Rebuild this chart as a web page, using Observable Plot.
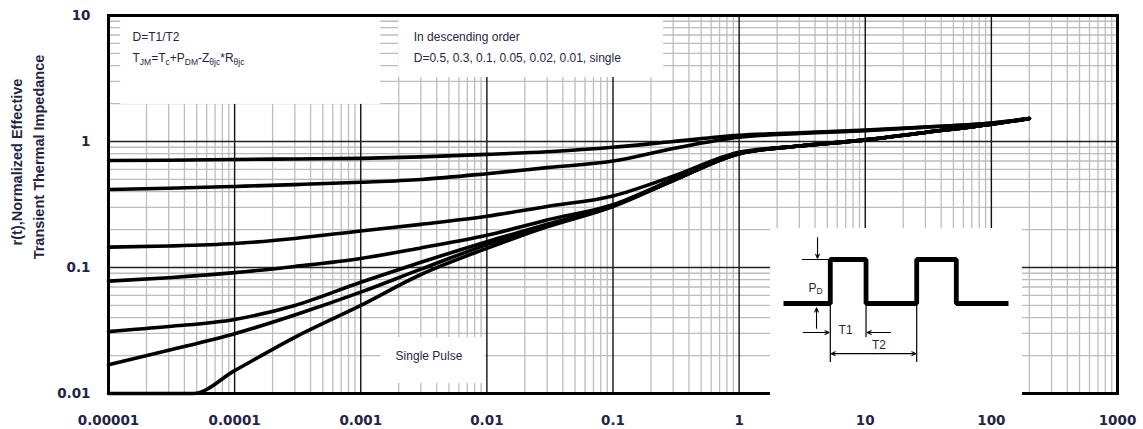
<!DOCTYPE html>
<html>
<head>
<meta charset="utf-8">
<script src="https://cdn.jsdelivr.net/npm/d3@7"></script>
<script src="https://cdn.jsdelivr.net/npm/@observablehq/plot@0.6"></script>
<style>
  body { margin: 0; background: white; }
  #wrap { position: relative; width: 1143px; height: 429px; overflow: hidden; background: white; }
  #wrap > svg { position: absolute; left: 0; top: 0; }
  #inset { position: absolute; left: 770px; top: 228px; }
  .ytitle { position: absolute; transform: translate(-50%, -50%) rotate(-90deg); white-space: nowrap;
            font: bold 14.5px "Liberation Sans", Arial, sans-serif; color: #1f2547; }
</style>
</head>
<body>
<div id="wrap">
  <div id="main"></div>
  <div id="inset"></div>
  <div class="ytitle" style="left:17px; top:162px;">r(t),Normalized Effective</div>
  <div class="ytitle" style="left:39px; top:157px;">Transient Thermal Impedance</div>
</div>
<script>
// ---------------- data ----------------
const xTicks = [1e-5, 1e-4, 1e-3, 1e-2, 1e-1, 1, 10, 100, 1000];
const xTickLabels = ["0.00001", "0.0001", "0.001", "0.01", "0.1", "1", "10", "100", "1000"];
const yTicks = [0.01, 0.1, 1, 10];
const yTickLabels = ["0.01", "0.1", "1", "10"];

// pulse width t (s)
const times = [1e-5, 3e-5, 1e-4, 3e-4, 1e-3, 3e-3, 1e-2, 3e-2, 0.1, 0.3, 1, 3, 10, 30, 100, 200];
const singleTimes = [1e-5, 4.7e-5, 1e-4, 3e-4, 1e-3, 3e-3, 1e-2, 3e-2, 0.1, 0.3, 1, 3, 10, 30, 100, 200];

// r(t) per duty cycle, in descending order
const d050 = [0.706, 0.71, 0.72, 0.727, 0.735, 0.755, 0.79, 0.83, 0.90, 1.0, 1.12, 1.17, 1.23, 1.3, 1.4, 1.52];
const d030 = [0.416, 0.425, 0.44, 0.455, 0.475, 0.50, 0.555, 0.62, 0.70, 0.88, 1.08, 1.16, 1.22, 1.3, 1.4, 1.52];
const d010 = [0.145, 0.148, 0.155, 0.17, 0.195, 0.22, 0.255, 0.305, 0.37, 0.53, 0.82, 0.92, 1.03, 1.18, 1.37, 1.52];
const d005 = [0.078, 0.083, 0.091, 0.102, 0.118, 0.143, 0.18, 0.238, 0.315, 0.50, 0.80, 0.92, 1.03, 1.18, 1.37, 1.52];
const d002 = [0.031, 0.034, 0.0387, 0.05, 0.0764, 0.11, 0.16, 0.22, 0.31, 0.49, 0.80, 0.92, 1.03, 1.18, 1.37, 1.52];
const d001 = [0.0169, 0.022, 0.0298, 0.042, 0.0637, 0.097, 0.152, 0.215, 0.307, 0.49, 0.80, 0.92, 1.03, 1.18, 1.37, 1.52];
const single = [0.01, 0.01, 0.0152, 0.0279, 0.05, 0.088, 0.142, 0.21, 0.305, 0.49, 0.80, 0.92, 1.03, 1.18, 1.37, 1.52];

const seriesNames = ["0.5", "0.3", "0.1", "0.05", "0.02", "0.01", "single"];
const seriesValues = [d050, d030, d010, d005, d002, d001, single];
const seriesTimes = [times, times, times, times, times, times, singleTimes];

// inset pulse schematic (schematic units)
const pulseT = [0, 5.2, 5.2, 9.17, 9.17, 14.8, 14.8, 19.2, 19.2, 25];
const pulseP = [0, 0, 1, 1, 0, 0, 1, 1, 0, 0];

// ---------------- annotations (positions) ----------------
const formula = "TJM=Tc+PDM-Zθjc*Rθjc";
const noteBoxes = [
  {x1: 1.25e-5, x2: 1.44e-3, y1: 1.97, y2: 10},
  {x1: 2.0e-3, x2: 0.252, y1: 3.22, y2: 10},
  {x1: 1.44e-3, x2: 0.0097, y1: 0.012, y2: 0.0278}
];
const notes = [
  {x: 1.55e-5, y: 6.69, text: "D=T1/T2"},
  {x: 1.55e-5, y: 4.56, text: formula},
  {x: 2.63e-3, y: 6.69, text: "In descending order"},
  {x: 2.63e-3, y: 4.56, text: "D=0.5, 0.3, 0.1, 0.05, 0.02, 0.01, single"},
  {x: 1.89e-3, y: 0.0197, text: "Single Pulse"}
];

// ---------------- build ----------------
const rows = seriesNames.flatMap((name, j) =>
  seriesTimes[j].map((t, i) => ({D: name, t, r: seriesValues[j][i]})));

const minorX = d3.range(-5, 3).flatMap(e => d3.range(2, 10).map(k => k * 10 ** e));
const minorY = d3.range(-2, 1).flatMap(e => d3.range(2, 10).map(k => k * 10 ** e));
const gridGray = "#bcbcbc";
const textColor = "#1f2547";

const chart = Plot.plot({
  width: 1143, height: 429,
  marginLeft: 108, marginRight: 26, marginTop: 15, marginBottom: 36,
  style: {fontFamily: "DejaVu Sans", fontSize: "13.5px", fontWeight: "bold", color: textColor, background: "transparent"},
  x: {type: "log", domain: [1e-5, 1000], ticks: xTicks,
      tickFormat: d => xTickLabels[xTicks.indexOf(d)], tickSize: 0, tickPadding: 22, label: null},
  y: {type: "log", domain: [0.01, 10], ticks: yTicks,
      tickFormat: d => yTickLabels[yTicks.indexOf(d)], tickSize: 0, tickPadding: 18, label: null},
  marks: [
    Plot.ruleX(minorX, {stroke: gridGray, strokeWidth: 1.3}),
    Plot.ruleY(minorY, {stroke: gridGray, strokeWidth: 1.3}),
    Plot.ruleX(xTicks.slice(1, -1), {stroke: "#111", strokeWidth: 1.4}),
    Plot.ruleY(yTicks.slice(1, -1), {stroke: "#222", strokeWidth: 1.3}),
    Plot.rect(noteBoxes, {x1: "x1", x2: "x2", y1: "y1", y2: "y2", fill: "white"}),
    Plot.frame({stroke: "black", strokeWidth: 3}),
    Plot.line(rows, {x: "t", y: "r", z: "D", stroke: "black", strokeWidth: 3.6,
                     curve: "monotone-x", strokeLinecap: "round", strokeLinejoin: "round"}),
    Plot.text(notes, {x: "x", y: "y", text: "text", textAnchor: "start", lineAnchor: "middle",
                      fontFamily: "Liberation Sans", fontSize: 12, fontWeight: "normal", fill: textColor})
  ]
});
document.getElementById("main").appendChild(chart);

// inset: pulse-train schematic
const pulseRows = pulseT.map((t, i) => ({t, p: pulseP[i]}));
const dimLines = [
  {x: 5.2, y1: -0.05, y2: -1.34},
  {x: 9.17, y1: -0.05, y2: -0.77},
  {x: 14.8, y1: -0.05, y2: -1.34}
];
const dimArrows = [
  {x1: 3.78, y1: 1.5, x2: 3.78, y2: 1.03},
  {x1: 3.67, y1: -0.56, x2: 3.67, y2: -0.1},
  {x1: 2.2, y1: -0.66, x2: 5.05, y2: -0.66},
  {x1: 11.9, y1: -0.66, x2: 9.3, y2: -0.66},
  {x1: 10, y1: -1.14, x2: 5.3, y2: -1.14},
  {x1: 10, y1: -1.14, x2: 14.7, y2: -1.14}
];
const insetLabels = [
  {x: 3.56, y: 0.36, text: "PD"},
  {x: 6.9, y: -0.61, text: "T1"},
  {x: 10.6, y: -0.95, text: "T2"}
];
const inset = Plot.plot({
  width: 252, height: 167, marginLeft: 13, marginRight: 14, marginTop: 0, marginBottom: 0,
  style: {background: "white", overflow: "visible"},
  x: {domain: [0, 25], axis: null},
  y: {domain: [-2.091, 1.705], axis: null},
  marks: [
    Plot.ruleY([1], {x1: 2.1, x2: 5.0, stroke: "black", strokeWidth: 1}),
    Plot.ruleX(dimLines, {x: "x", y1: "y1", y2: "y2", stroke: "black", strokeWidth: 1.2}),
    Plot.arrow(dimArrows, {x1: "x1", y1: "y1", x2: "x2", y2: "y2", stroke: "black", strokeWidth: 1.1,
                           headLength: 6, headAngle: 50}),
    Plot.line(pulseRows, {x: "t", y: "p", stroke: "black", strokeWidth: 4.8, strokeLinejoin: "miter", strokeLinecap: "butt"}),
    Plot.text(insetLabels, {x: "x", y: "y", text: "text", fontFamily: "Liberation Sans", fontSize: 12,
                            fill: textColor, textAnchor: "middle", lineAnchor: "middle"})
  ]
});
document.getElementById("inset").appendChild(inset);

// subscripts for formula labels
function subscriptify(root, plain, parts) {
  d3.select(root).selectAll("text").filter(function() { return this.textContent === plain; })
    .each(function() {
      const t = d3.select(this);
      t.text(null);
      let shifted = false;
      for (const [s, sub] of parts) {
        const ts = t.append("tspan").text(s);
        if (sub && !shifted) { ts.attr("dy", 2.5); shifted = true; }
        else if (!sub && shifted) { ts.attr("dy", -2.5); shifted = false; }
        if (sub) ts.attr("font-size", "8.5px");
      }
    });
}
subscriptify(chart, formula, [["T", 0], ["JM", 1], ["=T", 0], ["c", 1], ["+P", 0], ["DM", 1], ["-Z", 0], ["θjc", 1], ["*R", 0], ["θjc", 1]]);
subscriptify(inset, "PD", [["P", 0], ["D", 1]]);
</script>
</body>
</html>
